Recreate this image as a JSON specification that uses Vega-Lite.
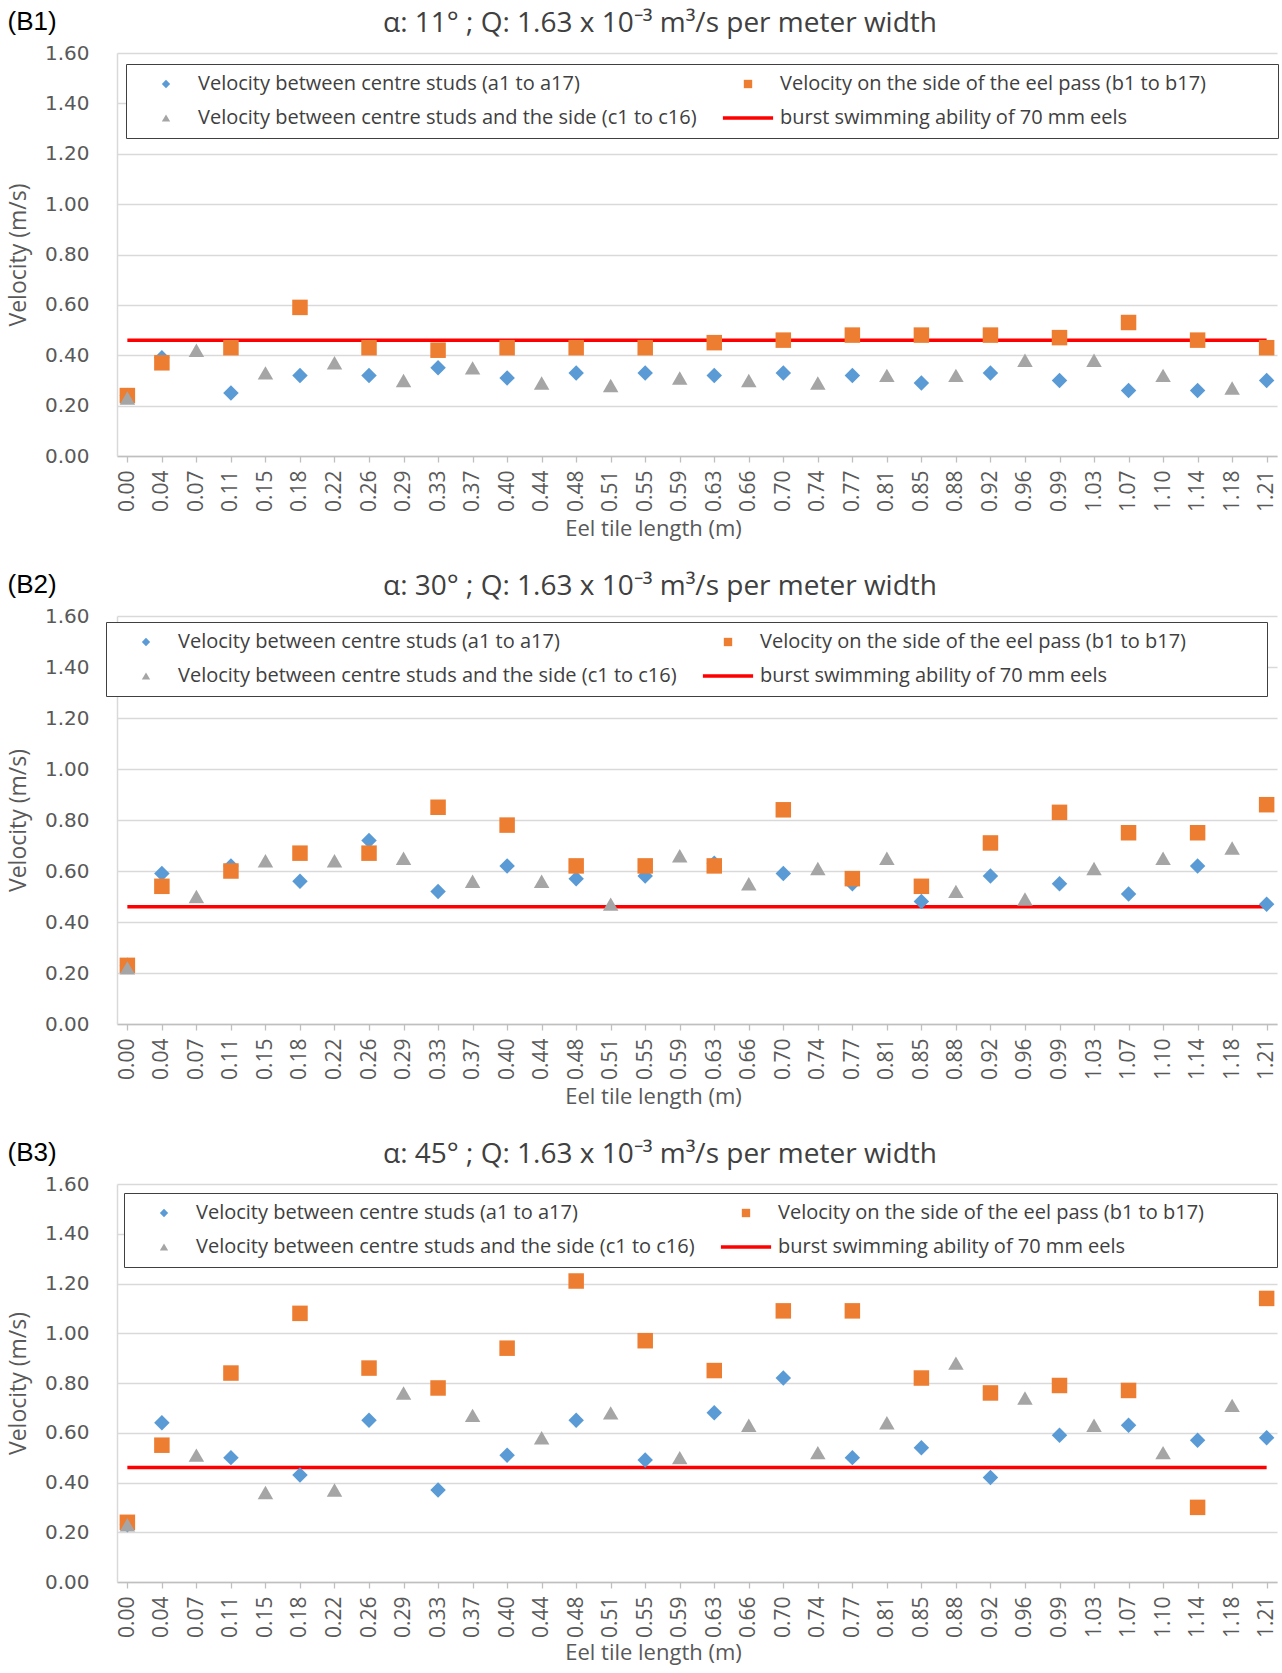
{
  "$schema": "https://vega.github.io/schema/vega-lite/v6.json",
  "background": "white",
  "padding": {"left": 7, "top": 9, "right": 0, "bottom": 6},
  "spacing": 32,
  "config": {
    "view": {"stroke": null},
    "font": "Open Sans",
    "axisX": {
      "labelAngle": -90,
      "labelFont": "Open Sans",
      "labelFontSize": 21,
      "labelColor": "#595959",
      "labelPadding": 8,
      "tickColor": "#bfbfbf",
      "tickSize": 6,
      "tickWidth": 1.3,
      "domainColor": "#bfbfbf",
      "domainWidth": 1.5,
      "grid": false,
      "titleFont": "Open Sans",
      "titleFontSize": 22,
      "titleFontWeight": "normal",
      "titleColor": "#595959",
      "titlePadding": 7,
      "titleX": 536
    },
    "axisY": {
      "values": [0, 0.2, 0.4, 0.6, 0.8, 1.0, 1.2, 1.4, 1.6],
      "format": ".2f",
      "labelFont": "DejaVu Sans",
      "labelFontSize": 20,
      "labelColor": "#595959",
      "labelPadding": 28,
      "ticks": false,
      "domain": true,
      "domainColor": "#d9d9d9",
      "domainWidth": 1.5,
      "gridColor": "#d9d9d9",
      "gridWidth": 1.5,
      "titleFont": "Open Sans",
      "titleFontSize": 23,
      "titleFontWeight": "normal",
      "titleColor": "#595959",
      "titlePadding": 14
    },
    "legend": {
      "orient": "none",
      "direction": "vertical",
      "columns": 2,
      "gridAlign": "all",
      "labelFont": "Open Sans",
      "labelFontSize": 20,
      "labelColor": "#404040",
      "labelLimit": 0,
      "symbolSize": 70,
      "symbolStrokeWidth": 0,
      "symbolOffset": 20,
      "labelOffset": 22,
      "rowPadding": 14,
      "columnPadding": 21,
      "padding": 10,
      "strokeColor": "#404040",
      "fillColor": "white",
      "cornerRadius": 0,
      "titleOrient": "right",
      "titleFontSize": 10,
      "titlePadding": 62
    }
  },
  "resolve": {
    "scale": {"x": "independent", "y": "independent", "color": "independent", "shape": "independent"},
    "legend": {"color": "independent", "shape": "independent"}
  },
  "datasets": {
    "d": [
      {"p":"B1","x":"0.00","s":"r","v":0.46},{"p":"B1","x":"1.21","s":"r","v":0.46},
      {"p":"B2","x":"0.00","s":"r","v":0.46},{"p":"B2","x":"1.21","s":"r","v":0.46},
      {"p":"B3","x":"0.00","s":"r","v":0.46},{"p":"B3","x":"1.21","s":"r","v":0.46},

      {"p":"B1","x":"0.00","s":"a","v":0.24},{"p":"B1","x":"0.04","s":"a","v":0.39},{"p":"B1","x":"0.11","s":"a","v":0.25},{"p":"B1","x":"0.18","s":"a","v":0.32},{"p":"B1","x":"0.26","s":"a","v":0.32},{"p":"B1","x":"0.33","s":"a","v":0.35},{"p":"B1","x":"0.40","s":"a","v":0.31},{"p":"B1","x":"0.48","s":"a","v":0.33},{"p":"B1","x":"0.55","s":"a","v":0.33},{"p":"B1","x":"0.63","s":"a","v":0.32},{"p":"B1","x":"0.70","s":"a","v":0.33},{"p":"B1","x":"0.77","s":"a","v":0.32},{"p":"B1","x":"0.85","s":"a","v":0.29},{"p":"B1","x":"0.92","s":"a","v":0.33},{"p":"B1","x":"0.99","s":"a","v":0.30},{"p":"B1","x":"1.07","s":"a","v":0.26},{"p":"B1","x":"1.14","s":"a","v":0.26},{"p":"B1","x":"1.21","s":"a","v":0.30},
      {"p":"B1","x":"0.00","s":"b","v":0.24},{"p":"B1","x":"0.04","s":"b","v":0.37},{"p":"B1","x":"0.11","s":"b","v":0.43},{"p":"B1","x":"0.18","s":"b","v":0.59},{"p":"B1","x":"0.26","s":"b","v":0.43},{"p":"B1","x":"0.33","s":"b","v":0.42},{"p":"B1","x":"0.40","s":"b","v":0.43},{"p":"B1","x":"0.48","s":"b","v":0.43},{"p":"B1","x":"0.55","s":"b","v":0.43},{"p":"B1","x":"0.63","s":"b","v":0.45},{"p":"B1","x":"0.70","s":"b","v":0.46},{"p":"B1","x":"0.77","s":"b","v":0.48},{"p":"B1","x":"0.85","s":"b","v":0.48},{"p":"B1","x":"0.92","s":"b","v":0.48},{"p":"B1","x":"0.99","s":"b","v":0.47},{"p":"B1","x":"1.07","s":"b","v":0.53},{"p":"B1","x":"1.14","s":"b","v":0.46},{"p":"B1","x":"1.21","s":"b","v":0.43},
      {"p":"B1","x":"0.00","s":"c","v":0.23},{"p":"B1","x":"0.07","s":"c","v":0.42},{"p":"B1","x":"0.15","s":"c","v":0.33},{"p":"B1","x":"0.22","s":"c","v":0.37},{"p":"B1","x":"0.29","s":"c","v":0.30},{"p":"B1","x":"0.37","s":"c","v":0.35},{"p":"B1","x":"0.44","s":"c","v":0.29},{"p":"B1","x":"0.51","s":"c","v":0.28},{"p":"B1","x":"0.59","s":"c","v":0.31},{"p":"B1","x":"0.66","s":"c","v":0.30},{"p":"B1","x":"0.74","s":"c","v":0.29},{"p":"B1","x":"0.81","s":"c","v":0.32},{"p":"B1","x":"0.88","s":"c","v":0.32},{"p":"B1","x":"0.96","s":"c","v":0.38},{"p":"B1","x":"1.03","s":"c","v":0.38},{"p":"B1","x":"1.10","s":"c","v":0.32},{"p":"B1","x":"1.18","s":"c","v":0.27},

      {"p":"B2","x":"0.00","s":"a","v":0.23},{"p":"B2","x":"0.04","s":"a","v":0.59},{"p":"B2","x":"0.11","s":"a","v":0.62},{"p":"B2","x":"0.18","s":"a","v":0.56},{"p":"B2","x":"0.26","s":"a","v":0.72},{"p":"B2","x":"0.33","s":"a","v":0.52},{"p":"B2","x":"0.40","s":"a","v":0.62},{"p":"B2","x":"0.48","s":"a","v":0.57},{"p":"B2","x":"0.55","s":"a","v":0.58},{"p":"B2","x":"0.63","s":"a","v":0.63},{"p":"B2","x":"0.70","s":"a","v":0.59},{"p":"B2","x":"0.77","s":"a","v":0.55},{"p":"B2","x":"0.85","s":"a","v":0.48},{"p":"B2","x":"0.92","s":"a","v":0.58},{"p":"B2","x":"0.99","s":"a","v":0.55},{"p":"B2","x":"1.07","s":"a","v":0.51},{"p":"B2","x":"1.14","s":"a","v":0.62},{"p":"B2","x":"1.21","s":"a","v":0.47},
      {"p":"B2","x":"0.00","s":"b","v":0.23},{"p":"B2","x":"0.04","s":"b","v":0.54},{"p":"B2","x":"0.11","s":"b","v":0.60},{"p":"B2","x":"0.18","s":"b","v":0.67},{"p":"B2","x":"0.26","s":"b","v":0.67},{"p":"B2","x":"0.33","s":"b","v":0.85},{"p":"B2","x":"0.40","s":"b","v":0.78},{"p":"B2","x":"0.48","s":"b","v":0.62},{"p":"B2","x":"0.55","s":"b","v":0.62},{"p":"B2","x":"0.63","s":"b","v":0.62},{"p":"B2","x":"0.70","s":"b","v":0.84},{"p":"B2","x":"0.77","s":"b","v":0.57},{"p":"B2","x":"0.85","s":"b","v":0.54},{"p":"B2","x":"0.92","s":"b","v":0.71},{"p":"B2","x":"0.99","s":"b","v":0.83},{"p":"B2","x":"1.07","s":"b","v":0.75},{"p":"B2","x":"1.14","s":"b","v":0.75},{"p":"B2","x":"1.21","s":"b","v":0.86},
      {"p":"B2","x":"0.00","s":"c","v":0.22},{"p":"B2","x":"0.07","s":"c","v":0.50},{"p":"B2","x":"0.15","s":"c","v":0.64},{"p":"B2","x":"0.22","s":"c","v":0.64},{"p":"B2","x":"0.29","s":"c","v":0.65},{"p":"B2","x":"0.37","s":"c","v":0.56},{"p":"B2","x":"0.44","s":"c","v":0.56},{"p":"B2","x":"0.51","s":"c","v":0.47},{"p":"B2","x":"0.59","s":"c","v":0.66},{"p":"B2","x":"0.66","s":"c","v":0.55},{"p":"B2","x":"0.74","s":"c","v":0.61},{"p":"B2","x":"0.81","s":"c","v":0.65},{"p":"B2","x":"0.88","s":"c","v":0.52},{"p":"B2","x":"0.96","s":"c","v":0.49},{"p":"B2","x":"1.03","s":"c","v":0.61},{"p":"B2","x":"1.10","s":"c","v":0.65},{"p":"B2","x":"1.18","s":"c","v":0.69},

      {"p":"B3","x":"0.00","s":"a","v":0.23},{"p":"B3","x":"0.04","s":"a","v":0.64},{"p":"B3","x":"0.11","s":"a","v":0.50},{"p":"B3","x":"0.18","s":"a","v":0.43},{"p":"B3","x":"0.26","s":"a","v":0.65},{"p":"B3","x":"0.33","s":"a","v":0.37},{"p":"B3","x":"0.40","s":"a","v":0.51},{"p":"B3","x":"0.48","s":"a","v":0.65},{"p":"B3","x":"0.55","s":"a","v":0.49},{"p":"B3","x":"0.63","s":"a","v":0.68},{"p":"B3","x":"0.70","s":"a","v":0.82},{"p":"B3","x":"0.77","s":"a","v":0.50},{"p":"B3","x":"0.85","s":"a","v":0.54},{"p":"B3","x":"0.92","s":"a","v":0.42},{"p":"B3","x":"0.99","s":"a","v":0.59},{"p":"B3","x":"1.07","s":"a","v":0.63},{"p":"B3","x":"1.14","s":"a","v":0.57},{"p":"B3","x":"1.21","s":"a","v":0.58},
      {"p":"B3","x":"0.00","s":"b","v":0.24},{"p":"B3","x":"0.04","s":"b","v":0.55},{"p":"B3","x":"0.11","s":"b","v":0.84},{"p":"B3","x":"0.18","s":"b","v":1.08},{"p":"B3","x":"0.26","s":"b","v":0.86},{"p":"B3","x":"0.33","s":"b","v":0.78},{"p":"B3","x":"0.40","s":"b","v":0.94},{"p":"B3","x":"0.48","s":"b","v":1.21},{"p":"B3","x":"0.55","s":"b","v":0.97},{"p":"B3","x":"0.63","s":"b","v":0.85},{"p":"B3","x":"0.70","s":"b","v":1.09},{"p":"B3","x":"0.77","s":"b","v":1.09},{"p":"B3","x":"0.85","s":"b","v":0.82},{"p":"B3","x":"0.92","s":"b","v":0.76},{"p":"B3","x":"0.99","s":"b","v":0.79},{"p":"B3","x":"1.07","s":"b","v":0.77},{"p":"B3","x":"1.14","s":"b","v":0.30},{"p":"B3","x":"1.21","s":"b","v":1.14},
      {"p":"B3","x":"0.00","s":"c","v":0.23},{"p":"B3","x":"0.07","s":"c","v":0.51},{"p":"B3","x":"0.15","s":"c","v":0.36},{"p":"B3","x":"0.22","s":"c","v":0.37},{"p":"B3","x":"0.29","s":"c","v":0.76},{"p":"B3","x":"0.37","s":"c","v":0.67},{"p":"B3","x":"0.44","s":"c","v":0.58},{"p":"B3","x":"0.51","s":"c","v":0.68},{"p":"B3","x":"0.59","s":"c","v":0.50},{"p":"B3","x":"0.66","s":"c","v":0.63},{"p":"B3","x":"0.74","s":"c","v":0.52},{"p":"B3","x":"0.81","s":"c","v":0.64},{"p":"B3","x":"0.88","s":"c","v":0.88},{"p":"B3","x":"0.96","s":"c","v":0.74},{"p":"B3","x":"1.03","s":"c","v":0.63},{"p":"B3","x":"1.10","s":"c","v":0.52},{"p":"B3","x":"1.18","s":"c","v":0.71}
    ]
  },
  "vconcat": [
    {
      "title": {"text": "(B1)", "anchor": "start", "frame": "bounds", "offset": -25, "font": "Liberation Sans", "fontSize": 26, "fontWeight": "normal", "color": "#000000"},
      "vconcat": [
        {
          "title": {"text": "α: 11° ; Q: 1.63 x 10⁻³ m³/s per meter width", "anchor": "middle", "dx": -37, "font": "Open Sans", "fontSize": 28, "fontWeight": "normal", "color": "#404040", "offset": 5},
          "width": 1160,
          "height": 403,
          "data": {"name": "d"},
          "transform": [{"filter": "datum.p === 'B1'"}],
          "encoding": {
            "x": {"field": "x", "type": "ordinal", "title": "Eel tile length (m)", "scale": {"type": "point", "padding": 0.3, "domain": ["0.00","0.04","0.07","0.11","0.15","0.18","0.22","0.26","0.29","0.33","0.37","0.40","0.44","0.48","0.51","0.55","0.59","0.63","0.66","0.70","0.74","0.77","0.81","0.85","0.88","0.92","0.96","0.99","1.03","1.07","1.10","1.14","1.18","1.21"]}},
            "y": {"field": "v", "type": "quantitative", "title": "Velocity (m/s)", "scale": {"domain": [0, 1.6], "nice": false}}
          },
          "layer": [
            {"transform": [{"filter": "datum.s === 'r'"}], "mark": {"type": "line", "color": "#ff0000", "strokeWidth": 3.5}},
            {
              "transform": [{"filter": "datum.s !== 'r'"}],
              "mark": {"type": "point", "filled": true, "opacity": 1, "size": 240},
              "encoding": {
                "color": {"field": "s", "type": "nominal", "scale": {"domain": ["a","c","b","r"], "range": ["#5B9BD5","#A5A5A5","#ED7D31","#FF0000"]}, "legend": {"legendX": 9, "legendY": 11, "title": " ", "titlePadding": 62, "labelExpr": "datum.value === 'a' ? 'Velocity between centre studs (a1 to a17)' : datum.value === 'b' ? 'Velocity on the side of the eel pass (b1 to b17)' : datum.value === 'c' ? 'Velocity between centre studs and the side (c1 to c16)' : 'burst swimming ability of 70 mm eels'"}},
                "shape": {"field": "s", "type": "nominal", "scale": {"domain": ["a","c","b","r"], "range": ["diamond","triangle-up","square","M-6,-0.42H6V0.42H-6Z"]}, "legend": {"legendX": 9, "legendY": 11, "title": " ", "titlePadding": 62, "labelExpr": "datum.value === 'a' ? 'Velocity between centre studs (a1 to a17)' : datum.value === 'b' ? 'Velocity on the side of the eel pass (b1 to b17)' : datum.value === 'c' ? 'Velocity between centre studs and the side (c1 to c16)' : 'burst swimming ability of 70 mm eels'"}}
              }
            }
          ]
        }
      ]
    },
    {
      "title": {"text": "(B2)", "anchor": "start", "frame": "bounds", "offset": -25, "font": "Liberation Sans", "fontSize": 26, "fontWeight": "normal", "color": "#000000"},
      "vconcat": [
        {
          "title": {"text": "α: 30° ; Q: 1.63 x 10⁻³ m³/s per meter width", "anchor": "middle", "dx": -37, "font": "Open Sans", "fontSize": 28, "fontWeight": "normal", "color": "#404040", "offset": 5},
          "width": 1160,
          "height": 408,
          "data": {"name": "d"},
          "transform": [{"filter": "datum.p === 'B2'"}],
          "encoding": {
            "x": {"field": "x", "type": "ordinal", "title": "Eel tile length (m)", "scale": {"type": "point", "padding": 0.3, "domain": ["0.00","0.04","0.07","0.11","0.15","0.18","0.22","0.26","0.29","0.33","0.37","0.40","0.44","0.48","0.51","0.55","0.59","0.63","0.66","0.70","0.74","0.77","0.81","0.85","0.88","0.92","0.96","0.99","1.03","1.07","1.10","1.14","1.18","1.21"]}},
            "y": {"field": "v", "type": "quantitative", "title": "Velocity (m/s)", "scale": {"domain": [0, 1.6], "nice": false}}
          },
          "layer": [
            {"transform": [{"filter": "datum.s === 'r'"}], "mark": {"type": "line", "color": "#ff0000", "strokeWidth": 3.5}},
            {
              "transform": [{"filter": "datum.s !== 'r'"}],
              "mark": {"type": "point", "filled": true, "opacity": 1, "size": 240},
              "encoding": {
                "color": {"field": "s", "type": "nominal", "scale": {"domain": ["a","c","b","r"], "range": ["#5B9BD5","#A5A5A5","#ED7D31","#FF0000"]}, "legend": {"legendX": -11, "legendY": 6, "title": " ", "titlePadding": 71, "labelExpr": "datum.value === 'a' ? 'Velocity between centre studs (a1 to a17)' : datum.value === 'b' ? 'Velocity on the side of the eel pass (b1 to b17)' : datum.value === 'c' ? 'Velocity between centre studs and the side (c1 to c16)' : 'burst swimming ability of 70 mm eels'"}},
                "shape": {"field": "s", "type": "nominal", "scale": {"domain": ["a","c","b","r"], "range": ["diamond","triangle-up","square","M-6,-0.42H6V0.42H-6Z"]}, "legend": {"legendX": -11, "legendY": 6, "title": " ", "titlePadding": 71, "labelExpr": "datum.value === 'a' ? 'Velocity between centre studs (a1 to a17)' : datum.value === 'b' ? 'Velocity on the side of the eel pass (b1 to b17)' : datum.value === 'c' ? 'Velocity between centre studs and the side (c1 to c16)' : 'burst swimming ability of 70 mm eels'"}}
              }
            }
          ]
        }
      ]
    },
    {
      "title": {"text": "(B3)", "anchor": "start", "frame": "bounds", "offset": -25, "font": "Liberation Sans", "fontSize": 26, "fontWeight": "normal", "color": "#000000"},
      "vconcat": [
        {
          "title": {"text": "α: 45° ; Q: 1.63 x 10⁻³ m³/s per meter width", "anchor": "middle", "dx": -37, "font": "Open Sans", "fontSize": 28, "fontWeight": "normal", "color": "#404040", "offset": 5},
          "width": 1160,
          "height": 398,
          "data": {"name": "d"},
          "transform": [{"filter": "datum.p === 'B3'"}],
          "encoding": {
            "x": {"field": "x", "type": "ordinal", "title": "Eel tile length (m)", "scale": {"type": "point", "padding": 0.3, "domain": ["0.00","0.04","0.07","0.11","0.15","0.18","0.22","0.26","0.29","0.33","0.37","0.40","0.44","0.48","0.51","0.55","0.59","0.63","0.66","0.70","0.74","0.77","0.81","0.85","0.88","0.92","0.96","0.99","1.03","1.07","1.10","1.14","1.18","1.21"]}, "axis": {"titlePadding": 5}},
            "y": {"field": "v", "type": "quantitative", "title": "Velocity (m/s)", "scale": {"domain": [0, 1.6], "nice": false}}
          },
          "layer": [
            {"transform": [{"filter": "datum.s === 'r'"}], "mark": {"type": "line", "color": "#ff0000", "strokeWidth": 3.5}},
            {
              "transform": [{"filter": "datum.s !== 'r'"}],
              "mark": {"type": "point", "filled": true, "opacity": 1, "size": 240},
              "encoding": {
                "color": {"field": "s", "type": "nominal", "scale": {"domain": ["a","c","b","r"], "range": ["#5B9BD5","#A5A5A5","#ED7D31","#FF0000"]}, "legend": {"legendX": 7, "legendY": 9, "title": " ", "titlePadding": 63, "labelExpr": "datum.value === 'a' ? 'Velocity between centre studs (a1 to a17)' : datum.value === 'b' ? 'Velocity on the side of the eel pass (b1 to b17)' : datum.value === 'c' ? 'Velocity between centre studs and the side (c1 to c16)' : 'burst swimming ability of 70 mm eels'"}},
                "shape": {"field": "s", "type": "nominal", "scale": {"domain": ["a","c","b","r"], "range": ["diamond","triangle-up","square","M-6,-0.42H6V0.42H-6Z"]}, "legend": {"legendX": 7, "legendY": 9, "title": " ", "titlePadding": 63, "labelExpr": "datum.value === 'a' ? 'Velocity between centre studs (a1 to a17)' : datum.value === 'b' ? 'Velocity on the side of the eel pass (b1 to b17)' : datum.value === 'c' ? 'Velocity between centre studs and the side (c1 to c16)' : 'burst swimming ability of 70 mm eels'"}}
              }
            }
          ]
        }
      ]
    }
  ]
}
